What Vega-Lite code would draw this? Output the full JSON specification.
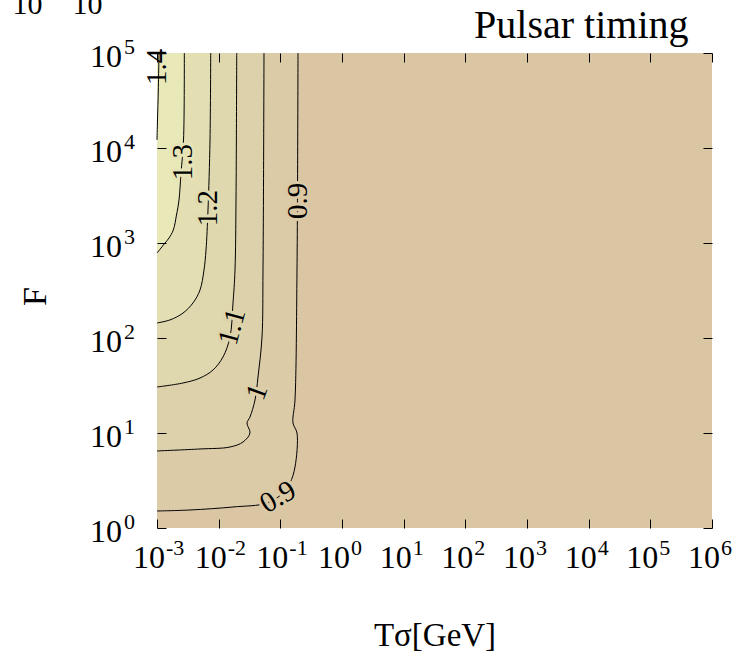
{
  "$schema": "https://vega.github.io/schema/vega-lite/v6.json",
  "autosize": "none",
  "padding": {"left": 157, "top": 53, "right": 26, "bottom": 135},
  "width": 555,
  "height": 475,
  "background": "white",
  "config": {
    "view": {"stroke": null, "fill": "#DBC6A4"},
    "text": {"font": "Liberation Serif", "color": "black"},
    "axis": {"domain": false, "grid": false, "labelFont": "Liberation Serif", "labelFontSize": 28, "labelColor": "black", "titleFont": "Liberation Serif", "titleFontSize": 30, "titleFontWeight": "normal", "titleColor": "black", "tickColor": "black", "labelOverlap": false, "labelFlush": false}
  },
  "datasets": {
    "contours": [
      {"level": "1.4", "i": 0, "T": 0.001077, "F": 100000},
      {"level": "1.4", "i": 1, "T": 0.00105, "F": 40790},
      {"level": "1.4", "i": 2, "T": 0.001019, "F": 19720},
      {"level": "1.4", "i": 3, "T": 0.001, "F": 12140},
      {"level": "1.3", "i": 0, "T": 0.002773, "F": 100000},
      {"level": "1.3", "i": 1, "T": 0.002691, "F": 12140},
      {"level": "1.3", "i": 2, "T": 0.002451, "F": 5455},
      {"level": "1.3", "i": 3, "T": 0.002274, "F": 2837},
      {"level": "1.3", "i": 4, "T": 0.002071, "F": 1972},
      {"level": "1.3", "i": 5, "T": 0.001838, "F": 1371},
      {"level": "1.3", "i": 6, "T": 0.001566, "F": 1129},
      {"level": "1.3", "i": 7, "T": 0.001348, "F": 1000},
      {"level": "1.3", "i": 8, "T": 0.001161, "F": 885},
      {"level": "1.3", "i": 9, "T": 0.001, "F": 785},
      {"level": "1.2", "i": 0, "T": 0.00743, "F": 100000},
      {"level": "1.2", "i": 1, "T": 0.007236, "F": 12140},
      {"level": "1.2", "i": 2, "T": 0.006714, "F": 2225},
      {"level": "1.2", "i": 3, "T": 0.006234, "F": 844},
      {"level": "1.2", "i": 4, "T": 0.005781, "F": 520},
      {"level": "1.2", "i": 5, "T": 0.004982, "F": 320},
      {"level": "1.2", "i": 6, "T": 0.003835, "F": 234},
      {"level": "1.2", "i": 7, "T": 0.00264, "F": 183},
      {"level": "1.2", "i": 8, "T": 0.001625, "F": 155},
      {"level": "1.2", "i": 9, "T": 0.001, "F": 144},
      {"level": "1.1", "i": 0, "T": 0.01962, "F": 100000},
      {"level": "1.1", "i": 1, "T": 0.0191, "F": 2837},
      {"level": "1.1", "i": 2, "T": 0.0184, "F": 520},
      {"level": "1.1", "i": 3, "T": 0.01708, "F": 234},
      {"level": "1.1", "i": 4, "T": 0.01527, "F": 102.4},
      {"level": "1.1", "i": 5, "T": 0.01175, "F": 63.1},
      {"level": "1.1", "i": 6, "T": 0.008094, "F": 46.05},
      {"level": "1.1", "i": 7, "T": 0.004982, "F": 37.9},
      {"level": "1.1", "i": 8, "T": 0.00264, "F": 33.6},
      {"level": "1.1", "i": 9, "T": 0.001, "F": 30.5},
      {"level": "1.0", "i": 0, "T": 0.05433, "F": 100000},
      {"level": "1.0", "i": 1, "T": 0.05234, "F": 520},
      {"level": "1.0", "i": 2, "T": 0.05043, "F": 102.4},
      {"level": "1.0", "i": 3, "T": 0.04343, "F": 38.86},
      {"level": "1.0", "i": 4, "T": 0.03882, "F": 22.25},
      {"level": "1.0", "i": 5, "T": 0.03221, "F": 14.74},
      {"level": "1.0", "i": 6, "T": 0.02879, "F": 12.74},
      {"level": "1.0", "i": 7, "T": 0.03221, "F": 10},
      {"level": "1.0", "i": 8, "T": 0.02481, "F": 8.04},
      {"level": "1.0", "i": 9, "T": 0.01527, "F": 7.12},
      {"level": "1.0", "i": 10, "T": 0.004982, "F": 6.79},
      {"level": "1.0", "i": 11, "T": 0.001, "F": 6.47},
      {"level": "0.9", "i": 0, "T": 0.1934, "F": 100000},
      {"level": "0.9", "i": 1, "T": 0.1863, "F": 520},
      {"level": "0.9", "i": 2, "T": 0.1729, "F": 22.25},
      {"level": "0.9", "i": 3, "T": 0.1604, "F": 12.74},
      {"level": "0.9", "i": 4, "T": 0.1863, "F": 10},
      {"level": "0.9", "i": 5, "T": 0.1729, "F": 4.386},
      {"level": "0.9", "i": 6, "T": 0.1434, "F": 2.976},
      {"level": "0.9", "i": 7, "T": 0.1104, "F": 2.335},
      {"level": "0.9", "i": 8, "T": 0.06076, "F": 1.833},
      {"level": "0.9", "i": 9, "T": 0.01708, "F": 1.664},
      {"level": "0.9", "i": 10, "T": 0.003428, "F": 1.547},
      {"level": "0.9", "i": 11, "T": 0.001, "F": 1.51}
    ],
    "labels": [
      {"label": "1.4", "T": 0.001, "F": 71250},
      {"label": "1.3", "T": 0.00264, "F": 7120},
      {"label": "1.2", "T": 0.006714, "F": 2335},
      {"label": "0.9", "T": 0.1934, "F": 2770},
      {"label": "1.1", "T": 0.01645, "F": 130.5},
      {"label": "1", "T": 0.04183, "F": 27.0},
      {"label": "0.9", "T": 0.0916, "F": 2.12}
    ],
    "xticks": [
      {"T": 0.001, "F": 1, "b": "10", "e": "-3"}, {"T": 0.01, "F": 1, "b": "10", "e": "-2"}, {"T": 0.1, "F": 1, "b": "10", "e": "-1"},
      {"T": 1, "F": 1, "b": "10", "e": "0"}, {"T": 10, "F": 1, "b": "10", "e": "1"}, {"T": 100, "F": 1, "b": "10", "e": "2"},
      {"T": 1000, "F": 1, "b": "10", "e": "3"}, {"T": 10000, "F": 1, "b": "10", "e": "4"}, {"T": 100000, "F": 1, "b": "10", "e": "5"},
      {"T": 1000000, "F": 1, "b": "10", "e": "6"}
    ],
    "yticks": [
      {"T": 0.001, "F": 1, "b": "10", "e": "0"}, {"T": 0.001, "F": 10, "b": "10", "e": "1"}, {"T": 0.001, "F": 100, "b": "10", "e": "2"},
      {"T": 0.001, "F": 1000, "b": "10", "e": "3"}, {"T": 0.001, "F": 10000, "b": "10", "e": "4"}, {"T": 0.001, "F": 100000, "b": "10", "e": "5"}
    ]
  },
  "resolve": {"axis": {"x": "independent", "y": "independent"}},
  "encoding": {
    "x": {"field": "T", "type": "quantitative", "scale": {"type": "log", "domain": [0.001, 1000000], "nice": false}, "axis": null},
    "y": {"field": "F", "type": "quantitative", "scale": {"type": "log", "domain": [1, 100000], "nice": false}, "axis": null}
  },
  "layer": [
    {
      "data": {"name": "contours"},
      "transform": [{"filter": "datum.level == '0.9'"}],
      "mark": {"type": "area", "orient": "horizontal", "interpolate": "catmull-rom", "color": "#DCCBA7"},
      "encoding": {
        "x": {"field": "T", "type": "quantitative", "scale": {"type": "log", "domain": [0.001, 1000000], "nice": false},
          "axis": {"orient": "bottom", "values": [0.001, 1000000], "ticks": false, "labels": false,
            "title": "Tσ[GeV]", "titleFontSize": 33, "titleX": 277.5, "titleY": 117, "titleAlign": "center", "titleBaseline": "alphabetic"}},
        "y": {"field": "F", "type": "quantitative", "scale": {"type": "log", "domain": [1, 100000], "nice": false},
          "axis": {"orient": "left", "values": [1, 100000], "ticks": false, "labels": false,
            "title": "F", "titleFontSize": 34, "titleX": -122, "titleY": 243, "titleAngle": 270, "titleAlign": "center", "titleBaseline": "middle"}},
        "x2": {"datum": 0.001}
      }
    },
    {
      "data": {"name": "contours"},
      "transform": [{"filter": "datum.level == '1.0'"}],
      "mark": {"type": "area", "orient": "horizontal", "interpolate": "catmull-rom", "color": "#DDD1AB"},
      "encoding": {
        "x": {"field": "T", "type": "quantitative", "scale": {"type": "log", "domain": [0.001, 1000000], "nice": false},
          "axis": {"orient": "top", "values": [0.001, 0.01, 0.1, 1, 10, 100, 1000, 10000, 100000, 1000000], "labels": false, "tickSize": -9, "tickWidth": 1, "zindex": 1,
            "title": "Pulsar timing", "titleFontSize": 40, "titleX": 531, "titleY": -16, "titleAlign": "right", "titleBaseline": "alphabetic"}},
        "y": {"field": "F", "type": "quantitative", "scale": {"type": "log", "domain": [1, 100000], "nice": false},
          "axis": {"orient": "right", "values": [1, 10, 100, 1000, 10000, 100000], "labels": false, "tickSize": -9, "tickWidth": 1, "title": null, "zindex": 1}},
        "x2": {"datum": 0.001}
      }
    },
    {
      "data": {"name": "contours"},
      "transform": [{"filter": "datum.level == '1.1'"}],
      "mark": {"type": "area", "interpolate": "catmull-rom", "color": "#DFD7AE"},
      "encoding": {
        "x": {"field": "T", "type": "quantitative", "scale": {"type": "log", "domain": [0.001, 1000000], "nice": false},
          "axis": {"orient": "bottom", "values": [0.001, 0.01, 0.1, 1, 10, 100, 1000, 10000, 100000, 1000000], "labels": false, "tickSize": -9, "tickWidth": 1, "title": null, "zindex": 1}},
        "y": {"field": "F", "type": "quantitative", "scale": {"type": "log", "domain": [1, 100000], "nice": false},
          "axis": {"orient": "left", "values": [1, 10, 100, 1000, 10000, 100000], "labels": false, "tickSize": -9, "tickWidth": 1, "zindex": 1,
            "title": "10\u00a0\u00a0\u00a0\u00a010", "titleFontSize": 30, "titleX": -145, "titleY": -40, "titleAngle": 0, "titleAlign": "left", "titleBaseline": "alphabetic"}},
        "y2": {"datum": 100000}
      }
    },
    {
      "data": {"name": "contours"},
      "transform": [{"filter": "datum.level == '1.2'"}],
      "mark": {"type": "area", "interpolate": "catmull-rom", "color": "#E3DFB3"},
      "encoding": {"y2": {"datum": 100000}}
    },
    {
      "data": {"name": "contours"},
      "transform": [{"filter": "datum.level == '1.3'"}],
      "mark": {"type": "area", "interpolate": "catmull-rom", "color": "#E9E8B9"},
      "encoding": {"y2": {"datum": 100000}}
    },
    {
      "data": {"name": "contours"},
      "transform": [{"filter": "datum.level == '1.4'"}],
      "mark": {"type": "area", "interpolate": "catmull-rom", "color": "#EEEEBD"},
      "encoding": {"y2": {"datum": 100000}}
    },
    {
      "data": {"name": "contours"},
      "mark": {"type": "line", "interpolate": "catmull-rom", "color": "black", "strokeWidth": 1},
      "encoding": {"detail": {"field": "level"}, "order": {"field": "i"}}
    },
    {
      "data": {"name": "labels"},
      "transform": [{"filter": "datum.F > 1000"}],
      "mark": {"type": "text", "angle": 270, "fontSize": 29, "align": "center", "baseline": "middle", "fillOpacity": 0, "strokeWidth": 6, "strokeJoin": "round"},
      "encoding": {"text": {"field": "label"}, "stroke": {"field": "label", "type": "nominal", "legend": null, "scale": {"domain": ["1.4", "1.3", "1.2", "1.1", "1", "0.9"], "range": ["transparent", "#E6E3B6", "#E1DBB0", "#DED4AC", "#DCCEA9", "#DBC8A5"]}}}
    },
    {
      "data": {"name": "labels"},
      "transform": [{"filter": "datum.F > 1000"}],
      "mark": {"type": "text", "angle": 270, "fontSize": 29, "align": "center", "baseline": "middle"},
      "encoding": {"text": {"field": "label"}}
    },
    {
      "data": {"name": "labels"},
      "transform": [{"filter": "datum.label == '1.1'"}],
      "mark": {"type": "text", "angle": 285, "fontSize": 29, "align": "center", "baseline": "middle", "fillOpacity": 0, "strokeWidth": 6, "strokeJoin": "round"},
      "encoding": {"text": {"field": "label"}, "stroke": {"field": "label", "type": "nominal", "legend": null, "scale": {"domain": ["1.4", "1.3", "1.2", "1.1", "1", "0.9"], "range": ["transparent", "#E6E3B6", "#E1DBB0", "#DED4AC", "#DCCEA9", "#DBC8A5"]}}}
    },
    {
      "data": {"name": "labels"},
      "transform": [{"filter": "datum.label == '1.1'"}],
      "mark": {"type": "text", "angle": 285, "fontSize": 29, "align": "center", "baseline": "middle"},
      "encoding": {"text": {"field": "label"}}
    },
    {
      "data": {"name": "labels"},
      "transform": [{"filter": "datum.label == '1'"}],
      "mark": {"type": "text", "angle": 290, "fontSize": 29, "align": "center", "baseline": "middle", "fillOpacity": 0, "strokeWidth": 6, "strokeJoin": "round"},
      "encoding": {"text": {"field": "label"}, "stroke": {"field": "label", "type": "nominal", "legend": null, "scale": {"domain": ["1.4", "1.3", "1.2", "1.1", "1", "0.9"], "range": ["transparent", "#E6E3B6", "#E1DBB0", "#DED4AC", "#DCCEA9", "#DBC8A5"]}}}
    },
    {
      "data": {"name": "labels"},
      "transform": [{"filter": "datum.label == '1'"}],
      "mark": {"type": "text", "angle": 290, "fontSize": 29, "align": "center", "baseline": "middle"},
      "encoding": {"text": {"field": "label"}}
    },
    {
      "data": {"name": "labels"},
      "transform": [{"filter": "datum.label == '0.9' && datum.F < 10"}],
      "mark": {"type": "text", "angle": 330, "fontSize": 29, "align": "center", "baseline": "middle", "fillOpacity": 0, "strokeWidth": 6, "strokeJoin": "round"},
      "encoding": {"text": {"field": "label"}, "stroke": {"field": "label", "type": "nominal", "legend": null, "scale": {"domain": ["1.4", "1.3", "1.2", "1.1", "1", "0.9"], "range": ["transparent", "#E6E3B6", "#E1DBB0", "#DED4AC", "#DCCEA9", "#DBC8A5"]}}}
    },
    {
      "data": {"name": "labels"},
      "transform": [{"filter": "datum.label == '0.9' && datum.F < 10"}],
      "mark": {"type": "text", "angle": 330, "fontSize": 29, "align": "center", "baseline": "middle"},
      "encoding": {"text": {"field": "label"}}
    },
    {
      "data": {"name": "xticks"},
      "mark": {"type": "text", "fontSize": 32, "align": "right", "baseline": "alphabetic", "dx": 8, "dy": 40},
      "encoding": {"text": {"field": "b"}}
    },
    {
      "data": {"name": "xticks"},
      "mark": {"type": "text", "fontSize": 22, "align": "left", "baseline": "alphabetic", "dx": 9, "dy": 27},
      "encoding": {"text": {"field": "e"}}
    },
    {
      "data": {"name": "yticks"},
      "mark": {"type": "text", "fontSize": 32, "align": "right", "baseline": "alphabetic", "dx": -35, "dy": 14},
      "encoding": {"text": {"field": "b"}}
    },
    {
      "data": {"name": "yticks"},
      "mark": {"type": "text", "fontSize": 22, "align": "left", "baseline": "alphabetic", "dx": -33, "dy": 1},
      "encoding": {"text": {"field": "e"}}
    },
    {
      "data": {"values": [{}]},
      "mark": {"type": "rect", "fillOpacity": 0, "stroke": "black", "strokeWidth": 2},
      "encoding": {"x": {"datum": 0.001}, "x2": {"datum": 1000000}, "y": {"datum": 1}, "y2": {"datum": 100000}}
    }
  ]
}
